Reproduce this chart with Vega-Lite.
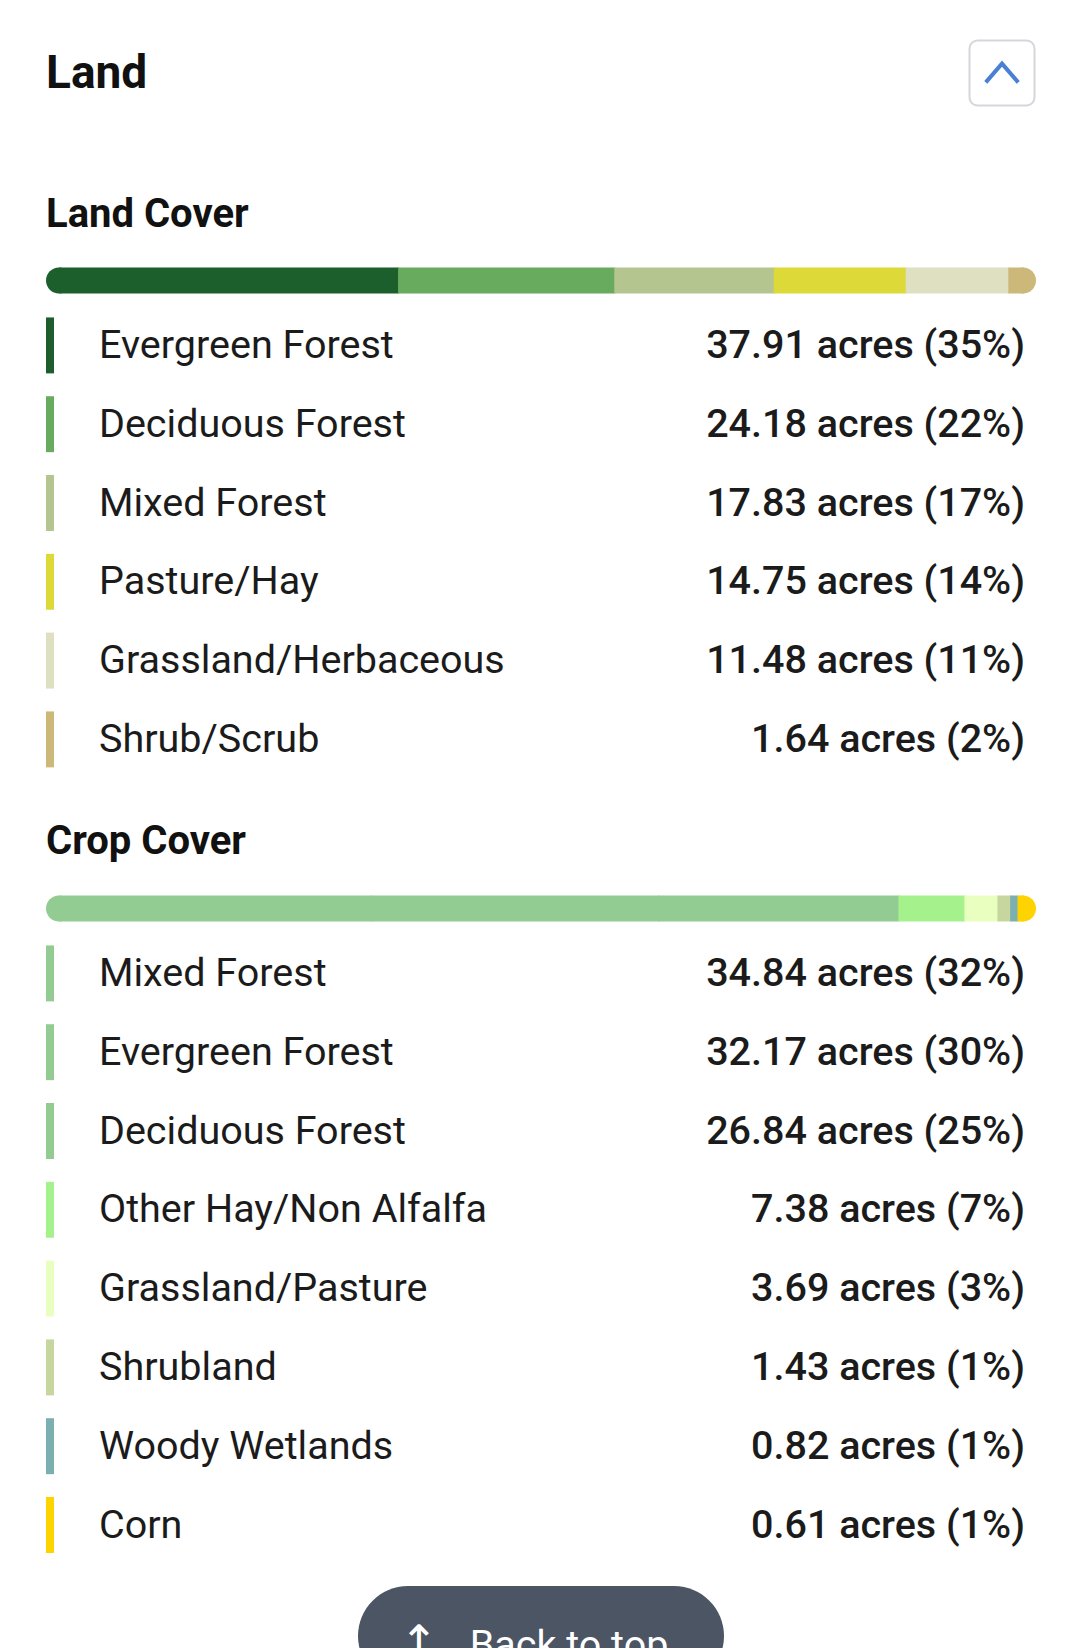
{
  "$schema": "https://vega.github.io/schema/vega-lite/v6.json",
  "background": "white",
  "padding": {"left": 45, "right": 45, "top": 0, "bottom": 0},
  "bounds": "flush",
  "spacing": 0,
  "config": {"view": {"stroke": null}, "text": {"font": "Roboto"}, "concat": {"spacing": 0}},
  "resolve": {"scale": {"color": "independent"}},
  "datasets": {
    "page": [{"title": "Land", "arrow": "↑", "button": "Back to top"}],
    "land": [
      {"section": "Land Cover", "name": "Evergreen Forest", "acres": 37.91, "pct": 35},
      {"section": "Land Cover", "name": "Deciduous Forest", "acres": 24.18, "pct": 22},
      {"section": "Land Cover", "name": "Mixed Forest", "acres": 17.83, "pct": 17},
      {"section": "Land Cover", "name": "Pasture/Hay", "acres": 14.75, "pct": 14},
      {"section": "Land Cover", "name": "Grassland/Herbaceous", "acres": 11.48, "pct": 11},
      {"section": "Land Cover", "name": "Shrub/Scrub", "acres": 1.64, "pct": 2}
    ],
    "crop": [
      {"section": "Crop Cover", "name": "Mixed Forest", "acres": 34.84, "pct": 32},
      {"section": "Crop Cover", "name": "Evergreen Forest", "acres": 32.17, "pct": 30},
      {"section": "Crop Cover", "name": "Deciduous Forest", "acres": 26.84, "pct": 25},
      {"section": "Crop Cover", "name": "Other Hay/Non Alfalfa", "acres": 7.38, "pct": 7},
      {"section": "Crop Cover", "name": "Grassland/Pasture", "acres": 3.69, "pct": 3},
      {"section": "Crop Cover", "name": "Shrubland", "acres": 1.43, "pct": 1},
      {"section": "Crop Cover", "name": "Woody Wetlands", "acres": 0.82, "pct": 1},
      {"section": "Crop Cover", "name": "Corn", "acres": 0.61, "pct": 1}
    ]
  },
  "vconcat": [
    {
      "width": 990, "height": 142,
      "data": {"name": "page"},
      "layer": [
        {"mark": {"type": "text", "align": "left", "fontSize": 46, "fontWeight": "bold", "color": "#111111", "dy": 3},
         "encoding": {"x": {"value": 0}, "text": {"field": "title"}}},
        {"mark": {"type": "point", "shape": "M -0.754 -1 L 0.754 -1 A 0.246 0.246 0 0 1 1 -0.754 L 1 0.754 A 0.246 0.246 0 0 1 0.754 1 L -0.754 1 A 0.246 0.246 0 0 1 -1 0.754 L -1 -0.754 A 0.246 0.246 0 0 1 -0.754 -1 Z", "size": 4225, "filled": true, "fill": "white", "stroke": "#d3d7dc", "strokeWidth": 2, "opacity": 1, "xOffset": -34, "yOffset": 2},
         "encoding": {"x": {"value": "width"}}},
        {"mark": {"type": "point", "shape": "M -0.5 0.29 L 0 -0.29 L 0.5 0.29", "size": 4225, "filled": false, "stroke": "#4a7fd6", "strokeWidth": 4, "opacity": 1, "xOffset": -34, "yOffset": 2},
         "encoding": {"x": {"value": "width"}}}
      ]
    },
    {
      "width": 990, "height": 104.5,
      "data": {"name": "land"},
      "transform": [{"aggregate": [{"op": "count", "as": "n"}], "groupby": ["section"]}],
      "mark": {"type": "text", "align": "left", "fontSize": 40, "fontWeight": "bold", "color": "#111111", "dy": 21},
      "encoding": {"x": {"value": 0}, "text": {"field": "section"}}
    },
    {
      "width": 990, "height": 59,
      "data": {"name": "land"},
      "transform": [
        {"stack": "acres", "groupby": [], "sort": [{"field": "acres", "order": "descending"}], "as": ["x0", "x1"]},
        {"joinaggregate": [{"op": "max", "field": "x1", "as": "total"}]}
      ],
      "encoding": {
        "y": {"field": "section", "type": "nominal", "axis": null, "scale": {"paddingInner": 0, "paddingOuter": 0}},
        "color": {"field": "name", "type": "nominal", "legend": null,
          "scale": {"domain": ["Evergreen Forest", "Deciduous Forest", "Mixed Forest", "Pasture/Hay", "Grassland/Herbaceous", "Shrub/Scrub"],
                    "range": ["#1c5f2c", "#68ab5f", "#b5c58f", "#dcd939", "#dfdfc2", "#ccb879"]}}
      },
      "layer": [
        {"transform": [{"filter": "datum.x0 == 0"}],
         "mark": {"type": "point", "shape": "circle", "filled": true, "opacity": 1, "size": 676, "yOffset": 4},
         "encoding": {"x": {"field": "x0", "type": "quantitative", "axis": null, "scale": {"padding": 13, "nice": false, "zero": true}}}},
        {"transform": [{"filter": "datum.x1 == datum.total"}],
         "mark": {"type": "point", "shape": "circle", "filled": true, "opacity": 1, "size": 676, "yOffset": 4},
         "encoding": {"x": {"field": "x1", "type": "quantitative", "axis": null, "scale": {"padding": 13, "nice": false, "zero": true}}}},
        {"mark": {"type": "bar", "height": 26, "yOffset": 4, "x2Offset": 1},
         "encoding": {"x": {"field": "x0", "type": "quantitative", "axis": null, "scale": {"padding": 13, "nice": false, "zero": true}}, "x2": {"field": "x1"}}}
      ]
    },
    {
      "width": 990, "height": 472.8,
      "data": {"name": "land"},
      "transform": [{"calculate": "format(datum.acres, '.2f') + ' acres (' + datum.pct + '%)'", "as": "value_label"}],
      "encoding": {
        "y": {"field": "name", "type": "nominal", "sort": {"field": "acres", "op": "sum", "order": "descending"}, "axis": null, "scale": {"paddingInner": 0, "paddingOuter": 0}}
      },
      "layer": [
        {"mark": {"type": "bar", "height": {"band": 0.71}},
         "encoding": {"x": {"value": 0}, "x2": {"value": 8},
           "color": {"field": "name", "type": "nominal", "legend": null,
             "scale": {"domain": ["Evergreen Forest", "Deciduous Forest", "Mixed Forest", "Pasture/Hay", "Grassland/Herbaceous", "Shrub/Scrub"],
                       "range": ["#1c5f2c", "#68ab5f", "#b5c58f", "#dcd939", "#dfdfc2", "#ccb879"]}}}},
        {"mark": {"type": "text", "align": "left", "fontSize": 39.5, "color": "#1b1b1b", "dy": 0.5},
         "encoding": {"x": {"value": 53}, "text": {"field": "name"}}},
        {"mark": {"type": "text", "align": "right", "fontSize": 39.5, "fontWeight": 500, "color": "#1b1b1b", "dy": 0.5},
         "encoding": {"x": {"value": 979}, "text": {"field": "value_label"}}}
      ]
    },
    {
      "width": 990, "height": 95.3,
      "data": {"name": "crop"},
      "transform": [{"aggregate": [{"op": "count", "as": "n"}], "groupby": ["section"]}],
      "mark": {"type": "text", "align": "left", "fontSize": 40, "fontWeight": "bold", "color": "#111111", "dy": 15},
      "encoding": {"x": {"value": 0}, "text": {"field": "section"}}
    },
    {
      "width": 990, "height": 59,
      "data": {"name": "crop"},
      "transform": [
        {"stack": "acres", "groupby": [], "sort": [{"field": "acres", "order": "descending"}], "as": ["x0", "x1"]},
        {"joinaggregate": [{"op": "max", "field": "x1", "as": "total"}]}
      ],
      "encoding": {
        "y": {"field": "section", "type": "nominal", "axis": null, "scale": {"paddingInner": 0, "paddingOuter": 0}},
        "color": {"field": "name", "type": "nominal", "legend": null,
          "scale": {"domain": ["Mixed Forest", "Evergreen Forest", "Deciduous Forest", "Other Hay/Non Alfalfa", "Grassland/Pasture", "Shrubland", "Woody Wetlands", "Corn"],
                    "range": ["#93cc93", "#93cc93", "#93cc93", "#a5f28c", "#e8ffbf", "#c6d69e", "#7cafaf", "#ffd300"]}}
      },
      "layer": [
        {"transform": [{"filter": "datum.x0 == 0"}],
         "mark": {"type": "point", "shape": "circle", "filled": true, "opacity": 1, "size": 676, "yOffset": 4},
         "encoding": {"x": {"field": "x0", "type": "quantitative", "axis": null, "scale": {"padding": 13, "nice": false, "zero": true}}}},
        {"transform": [{"filter": "datum.x1 == datum.total"}],
         "mark": {"type": "point", "shape": "circle", "filled": true, "opacity": 1, "size": 676, "yOffset": 4},
         "encoding": {"x": {"field": "x1", "type": "quantitative", "axis": null, "scale": {"padding": 13, "nice": false, "zero": true}}}},
        {"mark": {"type": "bar", "height": 26, "yOffset": 4, "x2Offset": 1},
         "encoding": {"x": {"field": "x0", "type": "quantitative", "axis": null, "scale": {"padding": 13, "nice": false, "zero": true}}, "x2": {"field": "x1"}}}
      ]
    },
    {
      "width": 990, "height": 630.4,
      "data": {"name": "crop"},
      "transform": [{"calculate": "format(datum.acres, '.2f') + ' acres (' + datum.pct + '%)'", "as": "value_label"}],
      "encoding": {
        "y": {"field": "name", "type": "nominal", "sort": {"field": "acres", "op": "sum", "order": "descending"}, "axis": null, "scale": {"paddingInner": 0, "paddingOuter": 0}}
      },
      "layer": [
        {"mark": {"type": "bar", "height": {"band": 0.71}},
         "encoding": {"x": {"value": 0}, "x2": {"value": 8},
           "color": {"field": "name", "type": "nominal", "legend": null,
             "scale": {"domain": ["Mixed Forest", "Evergreen Forest", "Deciduous Forest", "Other Hay/Non Alfalfa", "Grassland/Pasture", "Shrubland", "Woody Wetlands", "Corn"],
                       "range": ["#93cc93", "#93cc93", "#93cc93", "#a5f28c", "#e8ffbf", "#c6d69e", "#7cafaf", "#ffd300"]}}}},
        {"mark": {"type": "text", "align": "left", "fontSize": 39.5, "color": "#1b1b1b", "dy": 0.5},
         "encoding": {"x": {"value": 53}, "text": {"field": "name"}}},
        {"mark": {"type": "text", "align": "right", "fontSize": 39.5, "fontWeight": 500, "color": "#1b1b1b", "dy": 0.5},
         "encoding": {"x": {"value": 979}, "text": {"field": "value_label"}}}
      ]
    },
    {
      "width": 990, "height": 85,
      "data": {"name": "page"},
      "layer": [
        {"mark": {"type": "point", "shape": "M -0.7268 -0.1175 L 0.7268 -0.1175 A 0.2732 0.2732 0 0 1 0.7268 0.429 L -0.7268 0.429 A 0.2732 0.2732 0 0 1 -0.7268 -0.1175 Z", "size": 133956, "filled": true, "fill": "#4b5563", "opacity": 1}},
        {"mark": {"type": "text", "align": "center", "fontSize": 46, "font": "DejaVu Sans", "color": "white", "dy": 36, "dx": -122},
         "encoding": {"text": {"field": "arrow"}}},
        {"mark": {"type": "text", "align": "center", "fontSize": 39.5, "color": "white", "dy": 38, "dx": 28},
         "encoding": {"text": {"field": "button"}}}
      ]
    }
  ]
}
